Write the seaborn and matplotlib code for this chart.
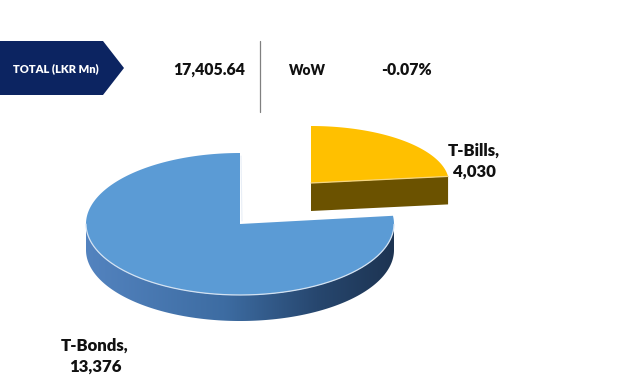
import numpy as np
import matplotlib
matplotlib.use("Agg")
import matplotlib.pyplot as plt
import seaborn as sns
from matplotlib.patches import Polygon
from matplotlib.colors import to_rgb

# ---- data ----
categories = ["T-Bills", "T-Bonds"]
values = [4030, 13376]
value_labels = ["4,030", "13,376"]
total_title = "TOTAL (LKR Mn)"
total_value = "17,405.64"
wow_title = "WoW"
wow_value = "-0.07%"

sns.set_theme(style="white")
plt.rcParams['font.family'] = ['Lato', 'DejaVu Sans']
TXT = dict(fontweight="heavy")

W, H = 637, 392
fig = plt.figure(figsize=(W / 100, H / 100), dpi=100)
ax = fig.add_axes([0, 0, 1, 1])
ax.set_xlim(0, W)
ax.set_ylim(H, 0)
ax.axis("off")

# ---- header ----
navy = "#0c2461"
ax.add_patch(Polygon([(0, 41), (103, 41), (124, 68), (103, 95), (0, 95)],
                     closed=True, fc=navy, ec="none"))
ax.text(56, 68.5, total_title, color="white", fontsize=8.0,
        ha="center", va="center", **TXT)
ax.text(209, 70, total_value, color="#111111", fontsize=11.3,
        ha="center", va="center", **TXT)
ax.plot([259.5, 259.5], [41, 112], color="#808080", lw=0.9)
ax.text(307.5, 70, wow_title, color="#111111", fontsize=9.8,
        ha="center", va="center", **TXT)
ax.text(406, 70, wow_value, color="#111111", fontsize=11.3,
        ha="center", va="center", **TXT)

# ---- 3D pie ----
fracs = np.array(values, dtype=float) / np.sum(values)
bounds = 90 - 360 * np.concatenate([[0], np.cumsum(fracs)])  # clockwise from 12 o'clock

def pt(cx, cy, rx, ry, t):
    r = np.deg2rad(t)
    return cx + rx * np.cos(r), cy - ry * np.sin(r)

def gradient_fill(poly_xy, x0, x1, y0, y1, stops, z):
    poly = Polygon(poly_xy, closed=True, fc="none", ec="none")
    ax.add_patch(poly)
    n = 256
    f = np.linspace(0, 1, n)
    pos = [s[0] for s in stops]
    cols = np.array([to_rgb(s[1]) for s in stops])
    img = np.stack([np.interp(f, pos, cols[:, k]) for k in range(3)], axis=-1)[None, :, :]
    im = ax.imshow(img, extent=(x0, x1, y1, y0), aspect="auto", zorder=z,
                   interpolation="bilinear")
    im.set_clip_path(poly)

def draw_slice(cx, cy, rx, ry, h, t_lo, t_hi, top_col, side_stops, edge_col, z):
    ts = np.linspace(t_lo, t_hi, 600)
    xs, ys = pt(cx, cy, rx, ry, ts)
    front = np.sin(np.deg2rad(ts)) < 0
    if front.any():
        fx, fy = xs[front], ys[front]
        poly = np.column_stack([np.r_[fx, fx[::-1]], np.r_[fy, fy[::-1] + h]])
        gradient_fill(poly, cx - rx, cx + rx, cy - ry, cy + ry + h, side_stops, z)
    nrm = t_lo - 90
    if np.sin(np.deg2rad(nrm)) < -0.05:
        xe, ye = pt(cx, cy, rx, ry, t_lo)
        ax.add_patch(Polygon([(cx, cy), (xe, ye), (xe, ye + h), (cx, cy + h)],
                             closed=True, fc=side_stops[0][1], ec="none", zorder=z))
        ax.plot([cx, xe], [cy, ye], color=edge_col, lw=0.9, zorder=z + 0.6)
    ax.add_patch(Polygon(np.column_stack([np.r_[cx, xs], np.r_[cy, ys]]),
                         closed=True, fc=top_col, ec="none", zorder=z + 0.5))
    if front.any():
        ax.plot(xs[front], ys[front], color=edge_col, lw=0.9, zorder=z + 0.6)

# T-Bills (exploded, farther away -> slightly smaller)
draw_slice(311, 183, 138, 57, 28, bounds[1], bounds[0], "#ffc000",
           [(0, "#6b5200"), (1, "#6b5200")], "#f6d680", 2)
# T-Bonds
draw_slice(240, 224, 154, 71, 26, bounds[2], bounds[1], "#5b9bd5",
           [(0, "#5383bf"), (0.45, "#3d6ca2"), (0.75, "#27476f"), (1, "#1d3452")],
           "#d3e2f2", 3)
ax.plot([241, 242], [156, 221], color="#e8eef6", lw=0.8, zorder=4)

# ---- labels ----
ax.text(474, 161.5, f"{categories[0]},\n{value_labels[0]}", fontsize=12.1,
        color="#111111", ha="center", va="center", linespacing=1.4, **TXT)
ax.text(95, 356.5, f"{categories[1]},\n{value_labels[1]}", fontsize=12.1,
        color="#111111", ha="center", va="center", linespacing=1.4, **TXT)

fig.savefig("out.png", dpi=100)
